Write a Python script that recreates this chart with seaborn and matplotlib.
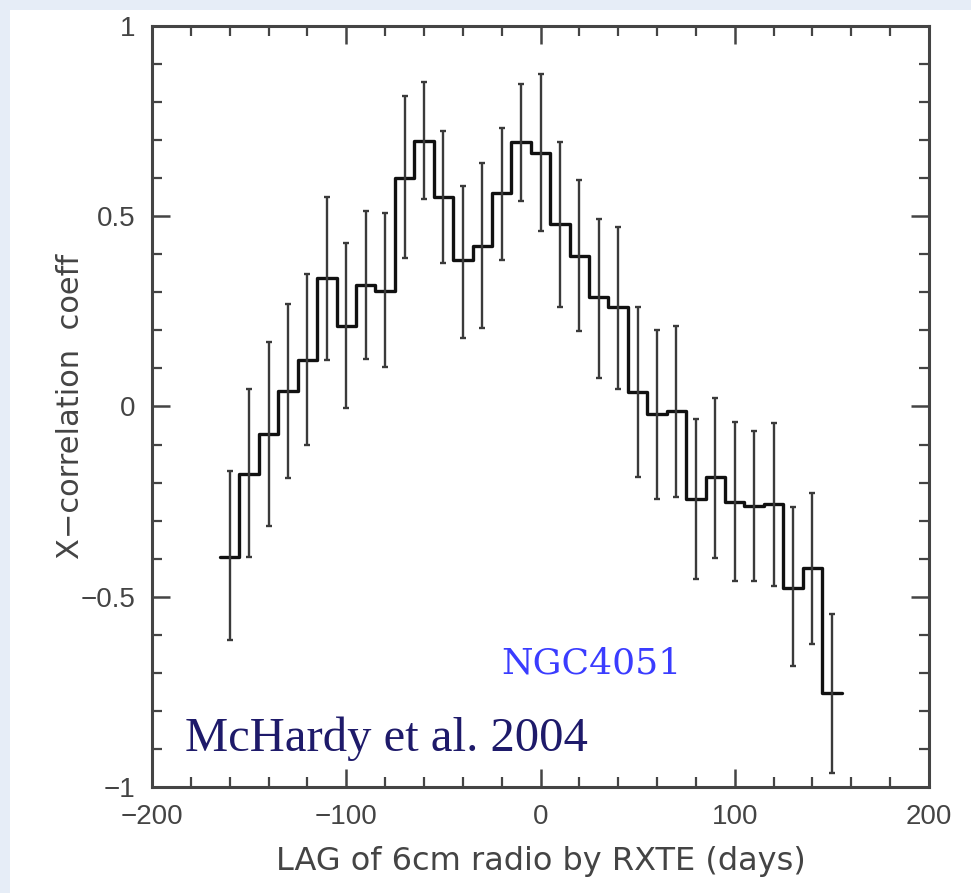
import numpy as np
import pandas as pd
import matplotlib
matplotlib.use("Agg")
import matplotlib.pyplot as plt
import seaborn as sns
from matplotlib.patches import Rectangle
from matplotlib.ticker import MultipleLocator, FixedLocator, FixedFormatter

# ---- data ----
lag_days = [-160, -150, -140, -130, -120, -110, -100, -90, -80, -70, -60, -50,
            -40, -30, -20, -10, 0, 10, 20, 30, 40, 50, 60, 70, 80, 90, 100,
            110, 120, 130, 140, 150]
ccf = [-0.395, -0.178, -0.071, 0.041, 0.122, 0.337, 0.212, 0.319, 0.304,
       0.601, 0.699, 0.551, 0.385, 0.423, 0.560, 0.696, 0.665, 0.480, 0.396,
       0.289, 0.261, 0.039, -0.020, -0.012, -0.243, -0.184, -0.252, -0.261,
       -0.257, -0.478, -0.425, -0.754]
err_hi = [-0.169, 0.045, 0.169, 0.269, 0.348, 0.551, 0.431, 0.514, 0.509,
          0.816, 0.853, 0.724, 0.580, 0.639, 0.731, 0.847, 0.873, 0.696,
          0.594, 0.493, 0.473, 0.262, 0.201, 0.212, -0.034, 0.023, -0.042,
          -0.064, -0.043, -0.265, -0.228, -0.545]
err_lo = [-0.614, -0.395, -0.313, -0.187, -0.101, 0.122, -0.005, 0.125,
          0.105, 0.389, 0.545, 0.378, 0.181, 0.205, 0.385, 0.540, 0.462,
          0.261, 0.198, 0.076, 0.045, -0.184, -0.243, -0.237, -0.454,
          -0.399, -0.459, -0.458, -0.472, -0.682, -0.625, -0.964]
bin_width = 10

xtick_vals = [-200, -100, 0, 100, 200]
xtick_labels = ["\u2212200", "\u2212100", "0", "100", "200"]
ytick_vals = [-1, -0.5, 0, 0.5, 1]
ytick_labels = ["\u22121", "\u22120.5", "0", "0.5", "1"]

x_label = "LAG of 6cm radio by RXTE (days)"
y_label = "X\u2212correlation  coeff"
source_text = "NGC4051"
ref_text = "McHardy et al. 2004"

# ---- figure ----
sns.set_theme(style="ticks")
plt.rcParams["font.family"] = ["DejaVu Sans"]

W, H = 971, 893
fig = plt.figure(figsize=(W / 100, H / 100), dpi=100)
fig.patch.set_facecolor("#e6edf7")
fig.patches.append(Rectangle((10 / W, 0), 1 - 10 / W, 1 - 10 / H,
                             transform=fig.transFigure, facecolor="white",
                             edgecolor="none", zorder=-10))

ax = fig.add_axes([152 / W, 1 - 787 / H, (929 - 152) / W, (787 - 26) / H])
ax.set_facecolor("white")

df = pd.DataFrame({"lag": lag_days, "ccf": ccf, "hi": err_hi, "lo": err_lo})

# step outline (bin edges derived from bin centres)
centres = np.asarray(df["lag"], dtype=float)
edges = np.append(centres - bin_width / 2, centres[-1] + bin_width / 2)
step_vals = np.append(df["ccf"].values, df["ccf"].values[-1])
sns.lineplot(x=edges, y=step_vals, drawstyle="steps-post", color="#111111",
             linewidth=2.4, ax=ax, estimator=None, sort=False)

# error bars
yerr = np.vstack([df["ccf"] - df["lo"], df["hi"] - df["ccf"]])
ax.errorbar(df["lag"], df["ccf"], yerr=yerr, fmt="none", ecolor="#3a3a3a",
            elinewidth=1.7, capsize=2.5, capthick=1.7)

ax.set_xlim(-200, 200)
ax.set_ylim(-1, 1)

ax.xaxis.set_major_locator(FixedLocator(xtick_vals))
ax.xaxis.set_major_formatter(FixedFormatter(xtick_labels))
ax.xaxis.set_minor_locator(MultipleLocator(20))
ax.yaxis.set_major_locator(FixedLocator(ytick_vals))
ax.yaxis.set_major_formatter(FixedFormatter(ytick_labels))
ax.yaxis.set_minor_locator(MultipleLocator(0.1))

ax.tick_params(which="both", direction="in", top=True, right=True,
               color="#444444", labelcolor="#444444", labelsize=20)
ax.tick_params(which="major", length=13, width=1.8, pad=12)
ax.tick_params(which="minor", length=7, width=1.6)
for lbl in ax.get_xticklabels() + ax.get_yticklabels():
    lbl.set_family("Liberation Sans")
for s in ax.spines.values():
    s.set_color("#444444")
    s.set_linewidth(2.2)

ax.set_xlabel(x_label, fontsize=23, color="#444444", labelpad=12)
ax.set_ylabel(y_label, fontsize=22, color="#444444", labelpad=-3)

ax.text(-20, -0.675, source_text, family="DejaVu Serif", fontsize=26,
        color="#3a3cff", ha="left", va="center")
ax.text(-183, -0.905, ref_text, family="Liberation Serif", fontsize=35,
        color="#1e1a6a", ha="left", va="baseline")

fig.savefig("out.png", dpi=100, facecolor=fig.get_facecolor())
